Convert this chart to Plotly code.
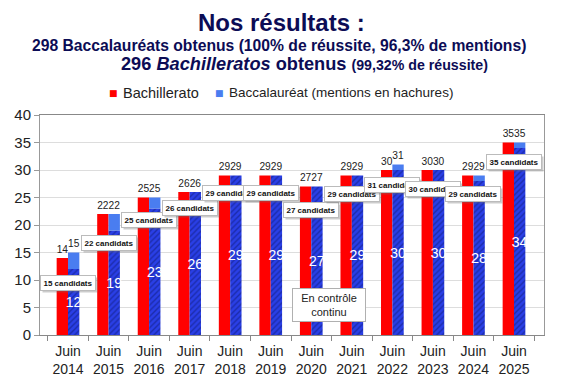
import plotly.graph_objects as go

years = ["2014", "2015", "2016", "2017", "2018", "2019", "2020", "2021", "2022", "2023", "2024", "2025"]
categories = ["Juin<br>" + y for y in years]
bachillerato = [14, 22, 25, 26, 29, 29, 27, 29, 30, 30, 29, 35]
baccalaureat = [15, 22, 25, 26, 29, 29, 27, 29, 31, 30, 29, 35]
mentions = [12, 19, 23, 26, 29, 29, 27, 29, 30, 30, 28, 34]
candidats = [15, 22, 25, 26, 29, 29, 27, 29, 31, 30, 29, 35]

# label box placement (styling only): distance below the Baccalauréat total
cand_drop = [5.5, 5.2, 4.1, 2.9, 3.2, 3.2, 4.3, 3.4, 3.8, 3.5, 3.4, 3.5]

FONT = "Liberation Sans, Arial, sans-serif"
NARROW = "Liberation Sans Narrow, Arial Narrow, Liberation Sans, sans-serif"
NAVY = "#0c0c55"
RED = "#ff0000"
BLUE = "#2a3fe6"
BLUE_TOP = "#4a7df0"

# the page body has an 8px margin, so the figure is sized/offset to fit the window exactly
OFF = 8
W, H = 545, 369
L, R, T, B = 32, 9, 107, 42
pw, ph = W - L - R, H - T - B


def px(x):  # page pixel -> paper x
    return (x - OFF - L) / pw


def py(y):  # page pixel -> paper y
    return (H - B - (y - OFF)) / ph


rest = [b - m for b, m in zip(baccalaureat, mentions)]

fig = go.Figure()
fig.add_trace(go.Bar(
    x=categories, y=bachillerato, name="Bachillerato", offsetgroup="a",
    marker=dict(color=RED, line=dict(width=0)),
    text=[str(v) for v in bachillerato], textposition="outside",
    textfont=dict(family=FONT, size=13, color="#222222"),
    cliponaxis=False, showlegend=False,
))
fig.add_trace(go.Bar(
    x=categories, y=mentions, name="mentions", offsetgroup="b", showlegend=False,
    marker=dict(color=BLUE, line=dict(width=0),
                pattern=dict(shape="/", fgcolor="#0d1a70", size=4, solidity=0.35)),
    text=[str(v) for v in mentions], textposition="inside", insidetextanchor="middle",
    textfont=dict(family=FONT, size=14, color="white"), constraintext="none",
))
fig.add_trace(go.Bar(
    x=categories, y=rest, base=mentions, name="Baccalauréat (mentions en hachures)",
    offsetgroup="b", marker=dict(color=BLUE_TOP, line=dict(width=0)), showlegend=False,
))
fig.add_trace(go.Bar(
    x=categories, y=baccalaureat, offsetgroup="b", showlegend=False,
    marker=dict(color="rgba(0,0,0,0)", line=dict(width=0)),
    text=[str(v) for v in baccalaureat], textposition="outside",
    textfont=dict(family=FONT, size=13, color="#222222"),
    cliponaxis=False, hoverinfo="skip",
))

annotations = []
for c, n, tot, d in zip(categories, candidats, baccalaureat, cand_drop):
    # drop shadow (empty box)
    annotations.append(dict(
        x=c, y=tot - d, xref="x", yref="y", text=" ",
        showarrow=False, xshift=2, yshift=-2, width=50, height=10,
        font=dict(family=NARROW, size=8),
        bgcolor="rgba(110,110,110,0.35)", borderpad=2, borderwidth=1, bordercolor="rgba(0,0,0,0)",
    ))
    annotations.append(dict(
        x=c, y=tot - d, xref="x", yref="y", text="<b>%d candidats</b>" % n,
        showarrow=False, width=50, height=10,
        font=dict(family=NARROW, size=8, color="#111111"),
        bgcolor="white", bordercolor="#bbbbbb", borderwidth=1, borderpad=2,
    ))

annotations.append(dict(
    x=categories[6], y=5.5, xref="x", yref="y", text="En contrôle<br>continu",
    showarrow=False, xshift=18, width=64, height=24,
    font=dict(family=FONT, size=11, color="#222222"),
    bgcolor="white", bordercolor="#b0b0b0", borderwidth=1, borderpad=4,
))

# titles
annotations += [
    dict(x=px(281), y=py(22), xref="paper", yref="paper", text="<b>Nos résultats :</b>",
         showarrow=False, yanchor="middle", font=dict(family=FONT, size=24, color=NAVY)),
    dict(x=px(279), y=py(45), xref="paper", yref="paper",
         text="<b>298 Baccalauréats obtenus (100% de réussite, 96,3% de mentions)</b>",
         showarrow=False, yanchor="middle", font=dict(family=FONT, size=15.7, color=NAVY)),
    dict(x=px(304), y=py(64), xref="paper", yref="paper",
         text="<b>296 <i>Bachilleratos</i> obtenus <span style='font-size:14.2px'>(99,32% de réussite)</span></b>",
         showarrow=False, yanchor="middle", font=dict(family=FONT, size=18.2, color=NAVY)),
]

# legend (drawn as text)
annotations += [
    dict(x=px(120), y=py(93), xref="paper", yref="paper", text="■", showarrow=False,
         xanchor="right", yanchor="middle", font=dict(family="DejaVu Sans", size=9, color=RED)),
    dict(x=px(121), y=py(93), xref="paper", yref="paper", text="Bachillerato", showarrow=False,
         xanchor="left", yanchor="middle", font=dict(family=FONT, size=14.5, color="#222222")),
    dict(x=px(226), y=py(93), xref="paper", yref="paper", text="■", showarrow=False,
         xanchor="right", yanchor="middle", font=dict(family="DejaVu Sans", size=9, color=BLUE_TOP)),
    dict(x=px(227), y=py(93), xref="paper", yref="paper",
         text="Baccalauréat (mentions en hachures)", showarrow=False,
         xanchor="left", yanchor="middle", font=dict(family=FONT, size=13.5, color="#222222")),
]

fig.update_layout(
    width=W, height=H,
    margin=dict(l=L, r=R, t=T, b=B, autoexpand=False),
    paper_bgcolor="white", plot_bgcolor="white",
    barmode="group", bargap=0.44, bargroupgap=0,
    font=dict(family=FONT, size=13, color="#222222"),
    showlegend=False,
    annotations=annotations,
    xaxis=dict(type="category", showgrid=False, tickson="boundaries", ticks="outside", ticklen=5,
               tickangle=0, tickcolor="#888888", showline=True, linecolor="#888888", linewidth=1,
               mirror=True, ticklabelstandoff=3, automargin=False,
               tickfont=dict(family=FONT, size=14, color="#222222")),
    yaxis=dict(range=[0, 40], dtick=5, showgrid=True, gridcolor="#dddddd", ticks="outside",
               ticklen=5, tickcolor="#999999", showline=True, linecolor="#999999", mirror=True,
               zeroline=False, automargin=False,
               tickfont=dict(family=FONT, size=15, color="#222222")),
)

fig.write_html("out.html")
